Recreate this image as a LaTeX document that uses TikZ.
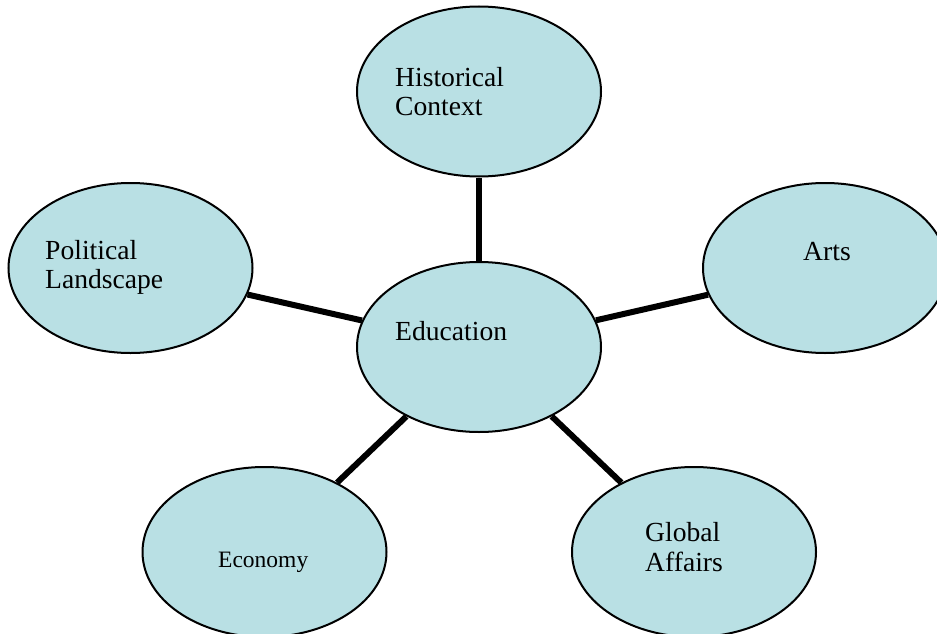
\documentclass[tikz,border=0pt]{standalone}
\usepackage{fontspec}
\setmainfont{Liberation Serif}
\usetikzlibrary{shapes.geometric}
\definecolor{bubblefill}{RGB}{185,224,228}
\begin{document}
\begin{tikzpicture}[x=1pt,y=-1pt,
  bubble/.style={ellipse, draw=black, line width=2pt, fill=bubblefill,
    minimum width=244pt, minimum height=170pt, inner sep=0pt},
  link/.style={line width=6pt, black},
  label/.style={anchor=base west, inner sep=0pt, align=left,
    font=\fontsize{27.6}{28.5}\selectfont}]
\clip (0,0) rectangle (937,634);
\fill[white] (0,0) rectangle (937,634);

% topic bubbles
\node[bubble] (edu)  at (479,347)   {};
\node[bubble] (hist) at (479,91.5)  {};
\node[bubble] (arts) at (825,268)   {};
\node[bubble] (pol)  at (130.5,268) {};
\node[bubble] (eco)  at (264.5,552) {};
\node[bubble] (glob) at (694,552)   {};

% spokes from the centre bubble
\draw[link] (edu) -- (hist);
\draw[link] (edu) -- (arts);
\draw[link] (edu) -- (pol);
\draw[link] (edu) -- (eco);
\draw[link] (edu) -- (glob);

% texts (a two-line text sits on the baseline of its last line)
\node[label] (tedu)  at (395,340)   {Education};
\node[label] (thist) at (395,115)   {Historical\\Context};
\node[label] (tarts) at (803,260)   {Arts};
\node[label] (tpol)  at (45,288)    {Political\\Landscape};
\node[label, font=\fontsize{23.5}{25}\selectfont] (teco) at (218,567) {Economy};
\node[label, font=\fontsize{27.6}{30}\selectfont] (tglob) at (645,571.7) {Global\\Affairs};
\end{tikzpicture}
\end{document}
